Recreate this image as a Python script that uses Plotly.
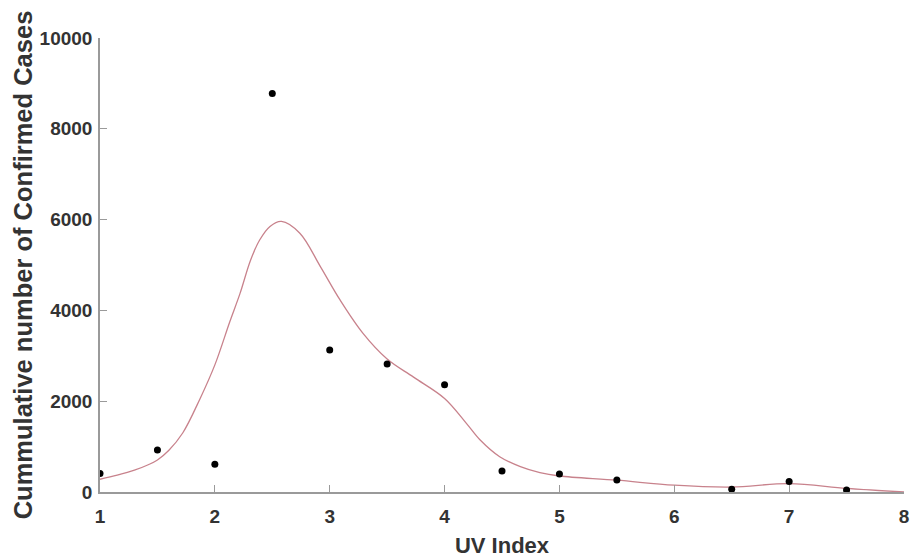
import plotly.graph_objects as go

# Observed data (black dots)
uv_index = [1.0, 1.5, 2.0, 2.5, 3.0, 3.5, 4.0, 4.5, 5.0, 5.5, 6.5, 7.0, 7.5]
cases = [410, 925, 610, 8780, 3130, 2820, 2365, 465, 395, 265, 60, 230, 45]

# Fitted smooth curve
fit_x = [1.0, 1.15, 1.3, 1.42, 1.5, 1.6, 1.72, 1.87, 2.0, 2.13, 2.22, 2.31,
         2.39, 2.48, 2.58, 2.74, 2.92, 3.09, 3.29, 3.5, 3.73, 4.0, 4.19, 4.31,
         4.48, 4.66, 4.83, 5.0, 5.5, 6.0, 6.5, 7.0, 7.5, 8.0]
fit_y = [280, 370, 480, 600, 705, 920, 1300, 2050, 2800, 3750, 4380, 5100,
         5550, 5850, 5960, 5700, 4960, 4230, 3495, 2930, 2530, 2060, 1513, 1145,
         777, 557, 425, 352, 260, 150, 110, 185, 80, 0]

x_ticks = [1, 2, 3, 4, 5, 6, 7, 8]
y_ticks = [0, 2000, 4000, 6000, 8000, 10000]

fig = go.Figure()
fig.add_trace(go.Scatter(
    x=fit_x, y=fit_y, mode="lines",
    line=dict(color="#c8828c", width=1.3, shape="spline", smoothing=1.0),
    showlegend=False, hoverinfo="skip"))
fig.add_trace(go.Scatter(
    x=uv_index, y=cases, mode="markers",
    marker=dict(color="black", size=7),
    showlegend=False))

font_family = "Liberation Sans, Arial, sans-serif"
axis_color = "#9a9a9a"

fig.update_layout(
    width=911, height=558,
    margin=dict(l=100, r=7, t=38, b=66),
    paper_bgcolor="white", plot_bgcolor="white",
    font=dict(family=font_family, color="#333333"),
    xaxis=dict(
        range=[1, 8], tickmode="array", tickvals=x_ticks,
        ticktext=[str(v) for v in x_ticks],
        showgrid=False, zeroline=False,
        showline=True, linecolor=axis_color, linewidth=1.5,
        ticks="inside", ticklen=7, tickcolor=axis_color, tickwidth=1,
        tickfont=dict(size=19, color="#333333", family=font_family, weight="bold"),
        ticklabelstandoff=6,
        title=dict(text="<b>UV Index</b>", font=dict(size=22, color="#333333"),
                   standoff=12),
        automargin=False,
    ),
    yaxis=dict(
        range=[0, 10000], tickmode="array", tickvals=y_ticks,
        ticktext=[str(v) for v in y_ticks],
        showgrid=False, zeroline=False,
        showline=True, linecolor=axis_color, linewidth=1.5,
        ticks="inside", ticklen=7, tickcolor=axis_color, tickwidth=1,
        tickfont=dict(size=19, color="#333333", family=font_family, weight="bold"),
        ticklabelstandoff=2,
        title=dict(text="<b>Cummulative number of Confirmed Cases</b>",
                   font=dict(size=25.5, color="#333333"), standoff=0),
        automargin=False,
    ),
)

fig.write_html("out.html",
               config={"displayModeBar": False},
               post_script="document.body.style.margin='0';")
